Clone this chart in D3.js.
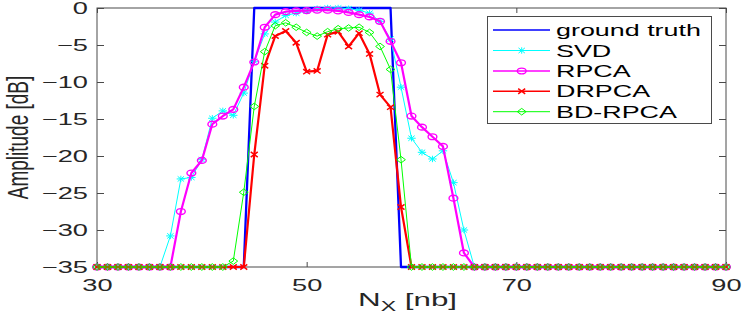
<!DOCTYPE html>
<html><head><meta charset="utf-8">
<script src="https://cdn.jsdelivr.net/npm/d3@7"></script>
<style>html,body{margin:0;padding:0;background:#fff;}svg{display:block;}</style>
</head><body>
<svg id="chart" width="747" height="327"></svg>
<script>
const nx = [30,31,32,33,34,35,36,37,38,39,40,41,42,43,44,45,46,47,48,49,50,51,52,53,54,55,56,57,58,59,60,61,62,63,64,65,66,67,68,69,70,71,72,73,74,75,76,77,78,79,80,81,82,83,84,85,86,87,88,89,90];
const groundTruth = [-35,-35,-35,-35,-35,-35,-35,-35,-35,-35,-35,-35,-35,-35,-35,0,0,0,0,0,0,0,0,0,0,0,0,0,0,-35,-35,-35,-35,-35,-35,-35,-35,-35,-35,-35,-35,-35,-35,-35,-35,-35,-35,-35,-35,-35,-35,-35,-35,-35,-35,-35,-35,-35,-35,-35,-35];
const svd = [-35,-35,-35,-35,-35,-35,-35,-30.8,-23.1,-22.9,-20.5,-14.9,-13.9,-14.5,-11.5,-7.2,-3.5,-1.9,-1.0,-0.7,-0.4,-0.1,0,0,-0.1,-0.3,-0.7,-1.8,-4.2,-10.7,-17.6,-19.5,-20.4,-19.3,-23.6,-30.0,-35,-35,-35,-35,-35,-35,-35,-35,-35,-35,-35,-35,-35,-35,-35,-35,-35,-35,-35,-35,-35,-35,-35,-35,-35];
const rpca = [-35,-35,-35,-35,-35,-35,-35,-35,-27.5,-22.3,-20.6,-15.7,-14.6,-13.7,-10.7,-7.3,-2.6,-0.9,-0.5,-0.4,-0.35,-0.3,-0.3,-0.4,-0.6,-0.9,-1.2,-1.8,-4.5,-7.4,-14.6,-16.1,-17.4,-18.7,-25.7,-33.1,-35,-35,-35,-35,-35,-35,-35,-35,-35,-35,-35,-35,-35,-35,-35,-35,-35,-35,-35,-35,-35,-35,-35,-35,-35];
const drpca = [-35,-35,-35,-35,-35,-35,-35,-35,-35,-35,-35,-35,-35,-35,-35,-19.8,-7.8,-3.8,-3.1,-4.7,-8.6,-8.5,-3.6,-3.2,-5.2,-3.4,-6.2,-11.7,-13.4,-26.9,-35,-35,-35,-35,-35,-35,-35,-35,-35,-35,-35,-35,-35,-35,-35,-35,-35,-35,-35,-35,-35,-35,-35,-35,-35,-35,-35,-35,-35,-35,-35];
const bdrpca = [-35,-35,-35,-35,-35,-35,-35,-35,-35,-35,-35,-35,-35,-34.2,-24.9,-13.3,-5.9,-2.4,-2.0,-2.6,-3.3,-3.8,-3.2,-2.8,-2.7,-2.6,-3.3,-5.2,-8.3,-20.5,-35,-35,-35,-35,-35,-35,-35,-35,-35,-35,-35,-35,-35,-35,-35,-35,-35,-35,-35,-35,-35,-35,-35,-35,-35,-35,-35,-35,-35,-35,-35];
const seriesNames = ["ground truth","SVD","RPCA","DRPCA","BD-RPCA"];
const xTicks = [30,50,70,90];
const yTicks = [0,-5,-10,-15,-20,-25,-30,-35];

const styles = [
  {color:"#0000ff", w:2.3, marker:null},
  {color:"#00ffff", w:1, marker:"star"},
  {color:"#ff00ff", w:2.2, marker:"circle"},
  {color:"#ff0000", w:2.2, marker:"x"},
  {color:"#00ff00", w:1, marker:"diamond"}
];
const seriesData = [groundTruth, svd, rpca, drpca, bdrpca];

const SX = 1.65;
const FONT = "'Liberation Sans', Arial, Helvetica, sans-serif";
const TXT = "#262626";
const AX = "#4a4a4a";

const svg = d3.select("#chart");
const L = 97, R = 726, T = 8, B = 267;
const x = d3.scaleLinear().domain([30,90]).range([L,R]);
const y = d3.scaleLinear().domain([-35,0]).range([B,T]);

// box
svg.append("rect").attr("x",L).attr("y",T).attr("width",R-L).attr("height",B-T)
  .attr("fill","none").attr("stroke",AX).attr("stroke-width",1);

function styleAxis(g){
  g.select(".domain").remove();
  g.selectAll("line").attr("stroke",AX).attr("stroke-width",1);
  g.selectAll("text").attr("fill",TXT).attr("font-family",FONT).attr("font-size",16.5);
}
const xb = svg.append("g").attr("transform",`translate(0,${B})`)
  .call(d3.axisBottom(x).tickValues(xTicks).tickSizeInner(-5).tickSizeOuter(0).tickPadding(12).tickFormat(d3.format("d")));
styleAxis(xb);
xb.selectAll("text").attr("transform",`scale(${SX},1)`);
const xt = svg.append("g").attr("transform",`translate(0,${T})`)
  .call(d3.axisTop(x).tickValues(xTicks).tickSizeInner(-5).tickSizeOuter(0).tickFormat(""));
styleAxis(xt);
const yl = svg.append("g").attr("transform",`translate(${L},0)`)
  .call(d3.axisLeft(y).tickValues(yTicks).tickSizeInner(-7).tickSizeOuter(0).tickPadding(9).tickFormat(d3.format("d")));
styleAxis(yl);
yl.selectAll("text").each(function(){
  const t = d3.select(this); const xx = +t.attr("x");
  t.attr("x", xx/SX).attr("transform",`scale(${SX},1)`);
});
const yr = svg.append("g").attr("transform",`translate(${R},0)`)
  .call(d3.axisRight(y).tickValues(yTicks).tickSizeInner(-7).tickSizeOuter(0).tickFormat(""));
styleAxis(yr);

// markers
function markerNode(sel, type, color){
  if(type==="circle"){
    sel.append("ellipse").attr("rx",4.4).attr("ry",2.9).attr("fill","none").attr("stroke",color).attr("stroke-width",1.4);
  } else if(type==="x"){
    sel.append("path").attr("d","M-3.5,-2.6L3.5,2.6M-3.5,2.6L3.5,-2.6").attr("stroke",color).attr("stroke-width",1.5).attr("fill","none");
  } else if(type==="star"){
    sel.append("path").attr("d","M-4.2,0H4.2M0,-3.2V3.2M-3.2,-2.6L3.2,2.6M-3.2,2.6L3.2,-2.6").attr("stroke",color).attr("stroke-width",1).attr("fill","none");
  } else if(type==="diamond"){
    sel.append("path").attr("d","M0,-3.3L4.4,0L0,3.3L-4.4,0Z").attr("stroke",color).attr("stroke-width",1).attr("fill","none");
  }
}

const line = d3.line().x(d=>x(d[0])).y(d=>y(d[1]));
seriesData.forEach((vals,i)=>{
  const st = styles[i];
  const pts = nx.map((v,j)=>[v, vals[j]]);
  const g = svg.append("g");
  g.append("path").datum(pts).attr("d",line).attr("fill","none")
    .attr("stroke",st.color).attr("stroke-width",st.w).attr("stroke-linejoin","round");
  if(st.marker){
    pts.forEach(p=>{
      const m = g.append("g").attr("transform",`translate(${x(p[0])},${y(p[1])})`);
      markerNode(m, st.marker, st.color);
    });
  }
});

// legend
const lg = svg.append("g");
lg.append("rect").attr("x",487.5).attr("y",16.5).attr("width",224).attr("height",107)
  .attr("fill","#fff").attr("stroke",AX).attr("stroke-width",1);
const rowY = [30,50.5,71,91.3,111.7];
seriesNames.forEach((name,i)=>{
  const st = styles[i];
  const yy = rowY[i];
  lg.append("line").attr("x1",493).attr("x2",550).attr("y1",yy).attr("y2",yy)
    .attr("stroke",st.color).attr("stroke-width",Math.min(st.w,1.5));
  if(st.marker){
    const m = lg.append("g").attr("transform",`translate(521.7,${yy})`);
    markerNode(m, st.marker, st.color);
  }
  lg.append("g").attr("transform",`translate(556,${yy+6})`)
    .append("text").attr("transform",`scale(${SX},1)`)
    .attr("font-family",FONT).attr("font-size",16.3).attr("fill","#000").text(name);
});

// axis labels
svg.append("g").attr("transform",`translate(28,137.5) scale(1.52,1) rotate(-90)`)
  .append("text").attr("text-anchor","middle").attr("font-family",FONT)
  .attr("font-size",19).attr("fill",TXT).text("Amplitude [dB]");

const xlab = svg.append("g").attr("transform",`translate(358,306)`)
  .append("text").attr("transform",`scale(${SX},1)`).attr("font-family",FONT)
  .attr("font-size",19).attr("fill",TXT);
xlab.append("tspan").text("N");
xlab.append("tspan").attr("font-size",14).attr("dy",5).text("X");
xlab.append("tspan").attr("dy",-5).text(" [nb]");
</script>
</body></html>
